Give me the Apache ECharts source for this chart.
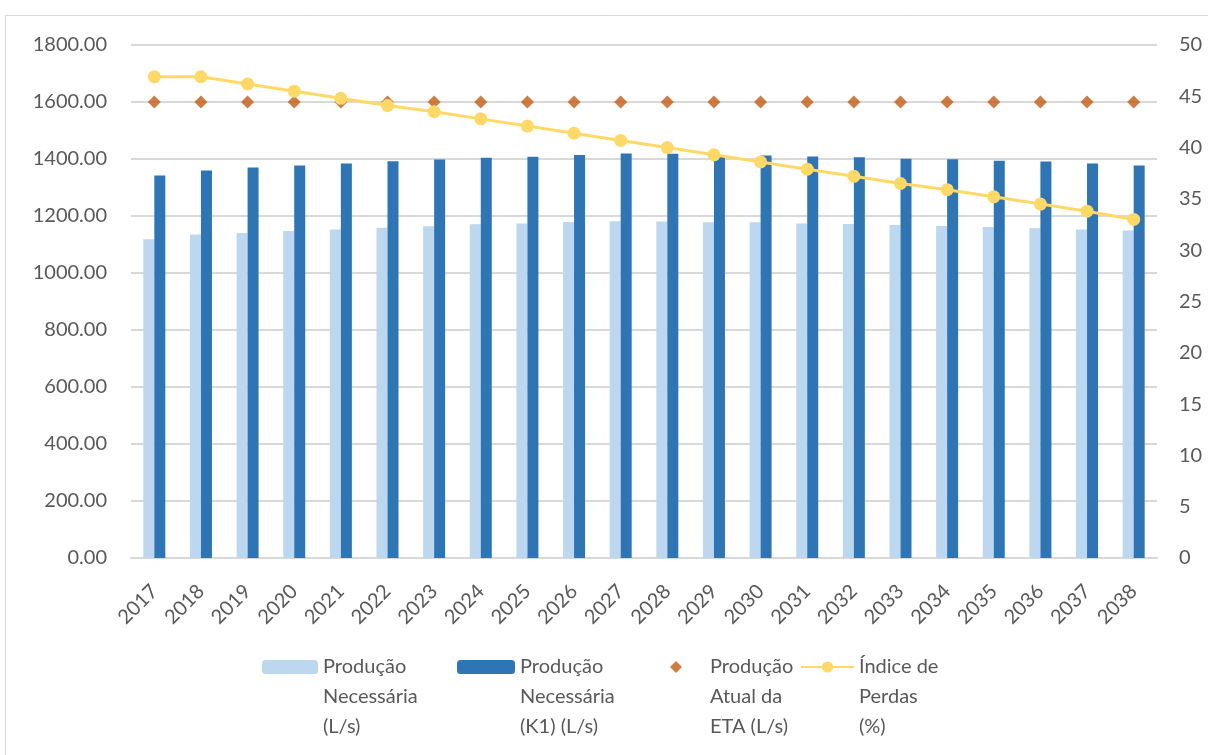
<!DOCTYPE html>
<html>
<head>
<meta charset="utf-8">
<script src="https://cdn.jsdelivr.net/npm/echarts@6/dist/echarts.min.js"></script>
<style>
  html, body { margin: 0; padding: 0; background: #fff; }
  #chart { width: 1208px; height: 755px; }
</style>
</head>
<body>
<div id="chart"></div>
<script>
// dados
const anos = ["2017","2018","2019","2020","2021","2022","2023","2024","2025","2026","2027",
  "2028","2029","2030","2031","2032","2033","2034","2035","2036","2037","2038"];
const producaoNecessaria = [1118,1135,1140,1147,1153,1159,1164,1171,1174,1179,1182,
  1181,1178,1178,1174,1172,1168,1165,1161,1157,1153,1149];
const producaoK1 = [1342,1360,1370,1377,1384,1392,1398,1404,1408,1414,1419,
  1418,1414,1412,1409,1406,1401,1399,1394,1391,1384,1377];
const producaoAtualETA = [1600,1600,1600,1600,1600,1600,1600,1600,1600,1600,1600,
  1600,1600,1600,1600,1600,1600,1600,1600,1600,1600,1600];
const indicePerdas = [46.9,46.9,46.2,45.5,44.8,44.1,43.5,42.8,42.1,41.4,40.7,
  40.0,39.3,38.6,37.9,37.2,36.5,35.9,35.2,34.5,33.8,33.0];

const nomes = [
  "Produção\nNecessária\n(L/s)",
  "Produção\nNecessária\n(K1) (L/s)",
  "Produção\nAtual da\nETA (L/s)",
  "Índice de\nPerdas\n(%)"
];

const fonte = "Lato";
const cinza = "#595959";

let myChart = echarts.init(document.getElementById("chart"));

// legenda com o ícone alinhado à primeira linha do texto
// (duas linhas vazias antes para o bloco centrar na primeira linha)
function legenda(nome, left, w, h, icon) {
  return {
    data: [icon ? { name: nome, icon: icon } : nome],
    left: left,
    top: 592,
    padding: 0,
    itemWidth: w,
    itemHeight: h,
    formatter: (n) => "\n\n" + n,
    textStyle: {
      fontFamily: fonte,
      fontSize: 20,
      color: cinza,
      lineHeight: 30,
    },
  };
}

let option = {
  animation: false,
  graphic: [
    {
      type: "rect",
      shape: { x: 5.5, y: 15.5, width: 1300, height: 800 },
      style: { fill: "none", stroke: "#d9d9d9", lineWidth: 1 },
      silent: true,
    },
  ],
  legend: [
    legenda(nomes[0], 262, 56, 14),
    legenda(nomes[1], 457, 58, 14),
    legenda(nomes[2], 670, 58, 12, "path://M0,-1L1,0L0,1L-1,0Z"),
    legenda(nomes[3], 800, 53, 14),
  ],
  grid: { left: 131, right: 51, top: 45, bottom: 197 },
  xAxis: {
    type: "category",
    data: anos,
    axisLine: { lineStyle: { color: "#d9d9d9", width: 2 } },
    axisTick: { show: false },
    axisLabel: {
      rotate: 45,
      interval: 0,
      margin: 30,
      fontFamily: fonte,
      fontSize: 20,
      color: cinza,
    },
  },
  yAxis: [
    {
      type: "value",
      min: 0,
      max: 1800,
      interval: 200,
      axisLine: { show: false },
      axisTick: { show: false },
      splitLine: { lineStyle: { color: "#d9d9d9", width: 2 } },
      axisLabel: {
        margin: 24,
        fontFamily: fonte,
        fontSize: 20,
        color: cinza,
        formatter: (v) => v.toFixed(2),
      },
    },
    {
      type: "value",
      min: 0,
      max: 50,
      interval: 5,
      axisLine: { show: false },
      axisTick: { show: false },
      splitLine: { show: false },
      axisLabel: {
        margin: 22,
        fontFamily: fonte,
        fontSize: 20,
        color: cinza,
      },
    },
  ],
  series: [
    {
      name: nomes[0],
      type: "bar",
      data: producaoNecessaria,
      barWidth: 11,
      barGap: "0%",
      itemStyle: { color: "#bdd7ee" },
    },
    {
      name: nomes[1],
      type: "bar",
      data: producaoK1,
      barWidth: 11,
      barGap: "0%",
      itemStyle: { color: "#2e75b6" },
    },
    {
      name: nomes[2],
      type: "scatter",
      data: producaoAtualETA,
      symbol: "diamond",
      symbolSize: 13,
      itemStyle: { color: "#c55a11" },
    },
    {
      name: nomes[3],
      type: "line",
      yAxisIndex: 1,
      data: indicePerdas,
      symbol: "circle",
      symbolSize: 13,
      lineStyle: { color: "#ffd966", width: 3 },
      itemStyle: { color: "#ffd966" },
    },
  ],
};

myChart.setOption(option);
</script>
</body>
</html>
